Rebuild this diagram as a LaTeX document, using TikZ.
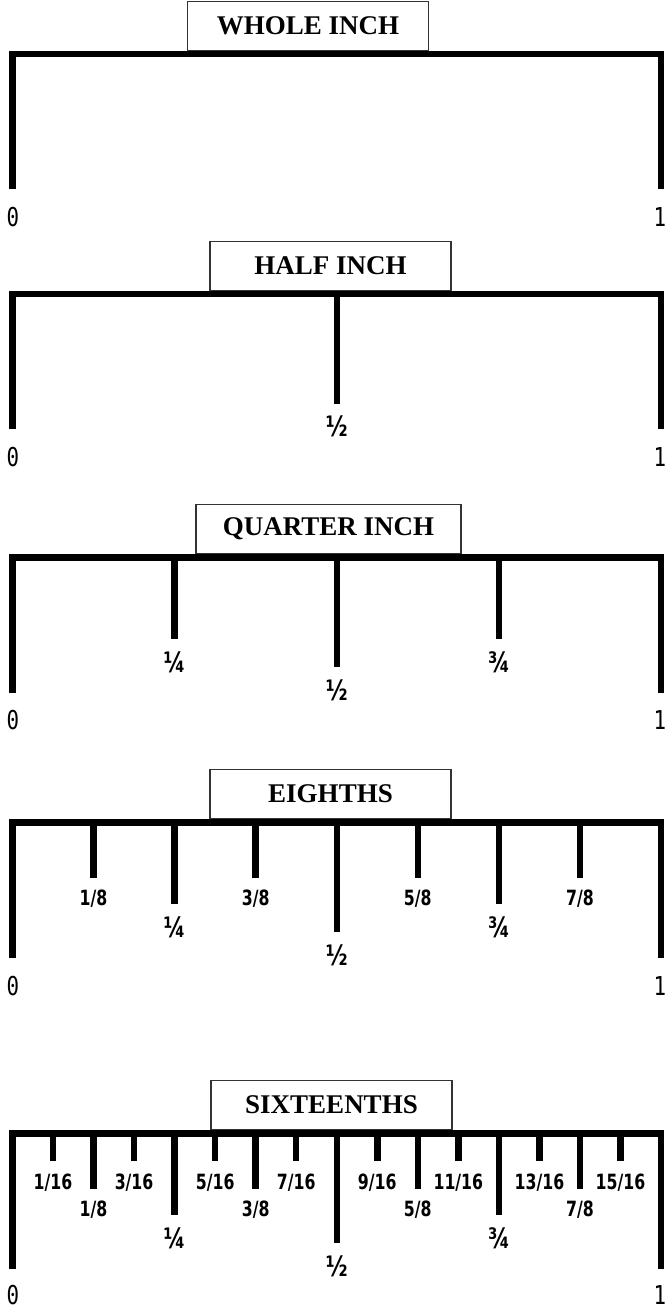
\documentclass[tikz,border=0pt]{standalone}
\usepackage{fontspec}
\setmainfont{Liberation Serif}
\newfontfamily\fracfont[FakeStretch=0.75]{DejaVu Sans}
\newfontfamily\endfont[FakeStretch=0.8]{DejaVu Sans Mono}
\usetikzlibrary{positioning}

\begin{document}
\begin{tikzpicture}[x=1pt, y=-1pt,
    rule/.style={line width=6.5pt, line join=miter},
    tick/.style={line width=6.5pt},
    titlebox/.style={draw=black!80, line width=1.2pt, fill=white, minimum height=49pt, inner sep=0pt, anchor=south, font=\fontsize{27}{30}\selectfont\bfseries},
    frac/.style={font=\fracfont\bfseries\fontsize{21}{23}\selectfont, inner sep=0pt},
    vfrac/.style={font=\fracfont\bfseries\fontsize{28}{30}\selectfont, inner sep=0pt},
    endlabel/.style={font=\endfont\fontsize{26}{28}\selectfont, inner sep=0pt}]
  \useasboundingbox (0,0) rectangle (670,1310);

  % whole inch
  \draw[rule] (12.5,189) -- (12.5,54) -- (661,54) -- (661,189);
  \node[titlebox, minimum width=241pt] (whole) at (308,50.75) {WHOLE INCH};
  \node[endlabel] (w0) at (13,217) {0};
  \node[endlabel] (w1) at (660,217) {1};

  % half inch
  \draw[rule] (12.5,429) -- (12.5,294) -- (661,294) -- (661,429);
  \node[titlebox, minimum width=241pt] (half) at (330.5,290.75) {HALF INCH};
  \draw[tick] (336.75,294) -- ++(0,109.5);
  \node[vfrac] (h1) at (336.75,426) {½};
  \node[endlabel] (h0) at (13,457) {0};
  \node[endlabel] (h2) at (660,457) {1};

  % quarter inch
  \draw[rule] (12.5,692.5) -- (12.5,557.5) -- (661,557.5) -- (661,692.5);
  \node[titlebox, minimum width=265pt] (quarter) at (328.5,554.25) {QUARTER INCH};
  \draw[tick] (174.6,557.5) -- ++(0,81);
  \draw[tick] (336.75,557.5) -- ++(0,109.5);
  \draw[tick] (498.9,557.5) -- ++(0,81);
  \node[vfrac] (q1) at (174.6,662) {¼};
  \node[vfrac] (q2) at (336.75,690) {½};
  \node[vfrac] (q3) at (498.9,662) {¾};
  \node[endlabel] (q0) at (13,720.5) {0};
  \node[endlabel] (q4) at (660,720.5) {1};

  % eighths
  \draw[rule] (12.5,957.5) -- (12.5,822.5) -- (661,822.5) -- (661,957.5);
  \node[titlebox, minimum width=241pt] (eighths) at (330.5,819.25) {EIGHTHS};
  \foreach \i in {1,3,5,7} {
    \draw[tick] (12.5+\i*81.0625,822.5) -- ++(0,55);
    \node[frac] (e\i) at (12.5+\i*81.0625,899) {\i/8};
  }
  \draw[tick] (174.6,822.5) -- ++(0,81);
  \draw[tick] (336.75,822.5) -- ++(0,109.5);
  \draw[tick] (498.9,822.5) -- ++(0,81);
  \node[vfrac] (e2) at (174.6,927) {¼};
  \node[vfrac] (e4) at (336.75,955) {½};
  \node[vfrac] (e6) at (498.9,927) {¾};
  \node[endlabel] (e0) at (13,986) {0};
  \node[endlabel] (e8) at (660,986) {1};

  % sixteenths
  \draw[rule] (12.5,1268.5) -- (12.5,1133.5) -- (661,1133.5) -- (661,1268.5);
  \node[titlebox, minimum width=241pt] (sixteenths) at (331.5,1130.25) {SIXTEENTHS};
  \foreach \i in {1,3,...,15} {
    \draw[tick] (12.5+\i*40.53125,1133.5) -- ++(0,27.5);
    \node[frac] (s\i) at (12.5+\i*40.53125,1183) {\i/16};
  }
  \foreach \i in {1,3,5,7} {
    \draw[tick] (12.5+\i*81.0625,1133.5) -- ++(0,55);
    \node[frac] (t\i) at (12.5+\i*81.0625,1210) {\i/8};
  }
  \draw[tick] (174.6,1133.5) -- ++(0,81);
  \draw[tick] (336.75,1133.5) -- ++(0,109.5);
  \draw[tick] (498.9,1133.5) -- ++(0,81);
  \node[vfrac] (s4) at (174.6,1238) {¼};
  \node[vfrac] (s8) at (336.75,1266) {½};
  \node[vfrac] (s12) at (498.9,1238) {¾};
  \node[endlabel] (s0) at (13,1295.5) {0};
  \node[endlabel] (s16) at (660,1295.5) {1};
\end{tikzpicture}
\end{document}
